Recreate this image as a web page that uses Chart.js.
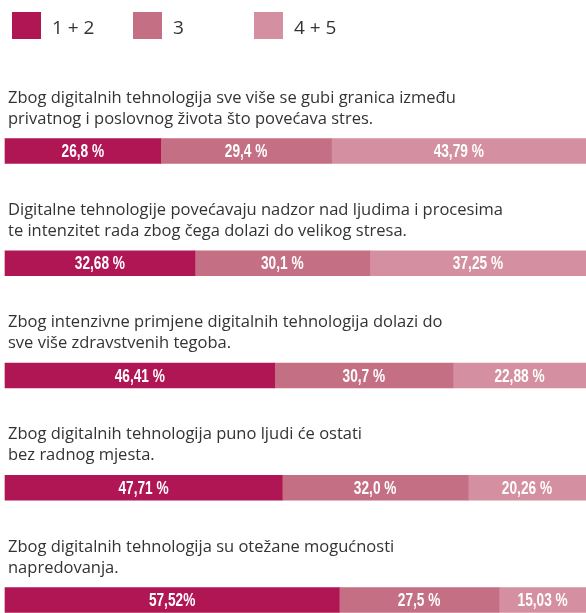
<!DOCTYPE html>
<html lang="hr">
<head>
<meta charset="UTF-8">
<title>Digitalne tehnologije i stres</title>
<script src="https://cdn.jsdelivr.net/npm/chart.js@4/dist/chart.umd.min.js"></script>
<style>
  body { margin: 0; background: #fff; }
  #wrap { position: relative; width: 586px; height: 613px; }
</style>
</head>
<body>
<div id="wrap"><canvas id="chart"></canvas></div>
<script>
// legend / series
const seriesNames = ["1 + 2", "3", "4 + 5"];
const colors = ["#b01654", "#c46f83", "#d48fa0"];

// questions (two lines each)
const questions = [
  ["Zbog digitalnih tehnologija sve više se gubi granica između", "privatnog i poslovnog života što povećava stres."],
  ["Digitalne tehnologije povećavaju nadzor nad ljudima i procesima", "te intenzitet rada zbog čega dolazi do velikog stresa."],
  ["Zbog intenzivne primjene digitalnih tehnologija dolazi do", "sve više zdravstvenih tegoba."],
  ["Zbog digitalnih tehnologija puno ljudi će ostati", "bez radnog mjesta."],
  ["Zbog digitalnih tehnologija su otežane mogućnosti", "napredovanja."]
];

const agree   = [26.8, 32.68, 46.41, 47.71, 57.52];
const neutral = [29.4, 30.1, 30.7, 32.0, 27.5];
const disagree = [43.79, 37.25, 22.88, 20.26, 15.03];

const agreeLabels   = ["26,8 %", "32,68 %", "46,41 %", "47,71 %", "57,52%"];
const neutralLabels = ["29,4 %", "30,1 %", "30,7 %", "32,0 %", "27,5 %"];
const disagreeLabels = ["43,79 %", "37,25 %", "22,88 %", "20,26 %", "15,03 %"];

const valueLabels = [agreeLabels, neutralLabels, disagreeLabels];

const textPlugin = {
  id: 'texts',
  afterDraw(chart) {
    const ctx = chart.ctx;
    const y = chart.scales.y;
    ctx.save();
    // legend
    ctx.font = '19px "Open Sans"';
    ctx.textBaseline = 'alphabetic';
    ctx.textAlign = 'left';
    seriesNames.forEach((name, i) => {
      const x = 12 + i * 121;
      ctx.fillStyle = colors[i];
      ctx.fillRect(x, 12, 29, 27);
      ctx.fillStyle = '#333';
      ctx.fillText(name, x + 40, 34);
    });
    // questions
    ctx.font = '16.5px "Open Sans"';
    ctx.fillStyle = '#333';
    questions.forEach((lines, i) => {
      const top = y.getPixelForValue(i) - 12.5;
      ctx.fillText(lines[0], 8, top - 36);
      ctx.fillText(lines[1], 8, top - 15);
    });
    // value labels (condensed bold)
    ctx.font = 'bold 19px "Liberation Sans"';
    ctx.fillStyle = '#fff';
    ctx.textAlign = 'center';
    ctx.textBaseline = 'middle';
    const sx = 0.72;
    chart.data.datasets.forEach((ds, d) => {
      chart.getDatasetMeta(d).data.forEach((bar, i) => {
        const cx = (bar.x + bar.base) / 2;
        ctx.save();
        ctx.translate(cx, bar.y + 1);
        ctx.scale(sx, 1);
        ctx.fillText(valueLabels[d][i], 0, 0);
        ctx.restore();
      });
    });
    ctx.restore();
  }
};

new Chart("chart", {
  type: "bar",
  data: {
    labels: questions.map(q => q.join(' ')),
    datasets: [
      { label: seriesNames[0], data: agree, backgroundColor: colors[0] },
      { label: seriesNames[1], data: neutral, backgroundColor: colors[1] },
      { label: seriesNames[2], data: disagree, backgroundColor: colors[2] }
    ]
  },
  options: {
    indexAxis: 'y',
    responsive: true,
    maintainAspectRatio: false,
    animation: false,
    clip: false,
    barThickness: 25,
    borderWidth: 0,
    layout: { padding: { left: 5, right: 0, top: 151, bottom: 13 } },
    scales: {
      x: { stacked: true, min: 0, max: 100, display: false },
      y: { stacked: true, offset: false, display: false }
    },
    plugins: {
      legend: { display: false },
      tooltip: { enabled: false }
    }
  },
  plugins: [textPlugin]
});
</script>
</body>
</html>
